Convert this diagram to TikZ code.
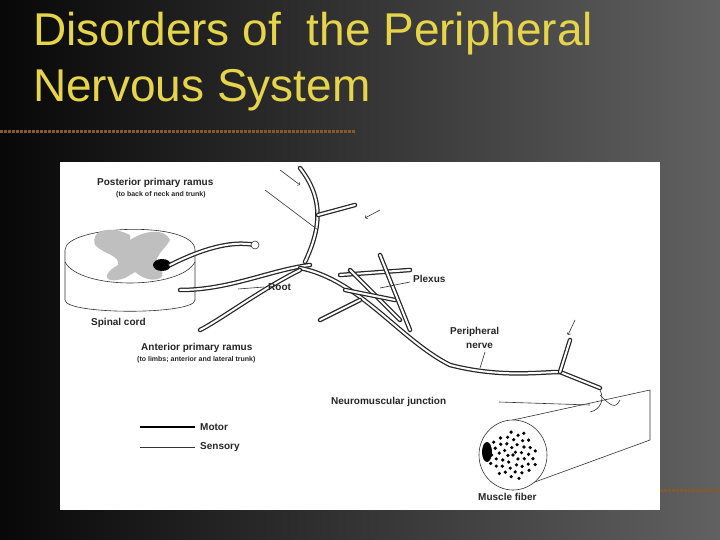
\documentclass[tikz,border=0pt]{standalone}
\usepackage{fontspec}
\setmainfont{Liberation Sans}
\begin{document}
\begin{tikzpicture}[x=1pt,y=-1pt,
  lbl/.style={font=\bfseries\fontsize{10}{11}\selectfont,anchor=west,inner sep=0,text=black!85},
  sml/.style={font=\bfseries\fontsize{7}{8}\selectfont,anchor=west,inner sep=0,text=black!85},
  nerveo/.style={line width=4.5pt,black!85,line cap=round},
  nervei/.style={line width=2pt,white,line cap=round},
  thin/.style={line width=0.6pt,black!80}]
\useasboundingbox (0,0) rectangle (720,540);
\shade[left color=black!97,right color=black!62] (0,0) rectangle (720,540);
\definecolor{ttl}{HTML}{E6D44A}
\node[anchor=base west,inner sep=0,text=ttl,font=\fontsize{46}{50}\selectfont] (t1) at (33,46) {Disorders of\ \ the Peripheral};
\node[anchor=base west,inner sep=0,text=ttl,font=\fontsize{46}{50}\selectfont] (t2) at (33,102) {Nervous System};
\draw[line width=3pt,brown!70!black,dash pattern=on 3pt off 1pt] (0,132) -- (355,132);
\draw[line width=3pt,brown!70!black,dash pattern=on 3pt off 1pt] (660,490) -- (720,490);
\fill[white] (60,162) rectangle (660,510);
% spinal cord
\draw[thin,fill=white] (65,250) .. controls (65,225) and (195,220) .. (195,250) -- (195,300) .. controls (195,315) and (65,315) .. (65,300) -- cycle;
\draw[thin] (65,262) .. controls (80,290) and (180,290) .. (195,262);
\fill[black!25] (130,235) .. controls (110,225) and (90,230) .. (95,245) .. controls (105,255) and (120,255) .. (118,265) .. controls (100,275) and (105,285) .. (125,278) -- (135,272) .. controls (150,285) and (170,280) .. (160,268) .. controls (150,258) and (165,250) .. (170,240) .. controls (165,228) and (145,230) .. (130,240) -- cycle;
\fill[black] (162,265) ellipse (9pt and 6pt);
% roots
\draw[nerveo] (170,265) .. controls (200,250) and (230,240) .. (255,245);
\draw[nervei] (170,265) .. controls (200,250) and (230,240) .. (255,245);
\draw[thin,fill=white] (255,245) circle (4pt);
\draw[nerveo] (180,290) .. controls (230,290) and (270,270) .. (310,265);
\draw[nervei] (180,290) .. controls (230,290) and (270,270) .. (310,265);
% posterior ramus
\draw[nerveo] (305,262) .. controls (320,230) and (325,200) .. (300,168);
\draw[nervei] (305,262) .. controls (320,230) and (325,200) .. (300,168);
\draw[nerveo] (318,215) -- (355,205);
\draw[nervei] (318,215) -- (355,205);
% main nerve
\draw[nerveo] (300,268) .. controls (360,280) and (400,340) .. (450,365) .. controls (500,378) and (540,372) .. (560,372) -- (600,388);
\draw[nervei] (300,268) .. controls (360,280) and (400,340) .. (450,365) .. controls (500,378) and (540,372) .. (560,372) -- (600,388);
\draw[nerveo] (300,270) .. controls (260,290) and (220,320) .. (200,330);
\draw[nervei] (300,270) .. controls (260,290) and (220,320) .. (200,330);
% plexus
\foreach \a/\b in {{(340,275)}/{(410,270)},{(350,270)}/{(400,320)},{(345,290)}/{(395,300)},{(360,300)}/{(320,320)},{(380,255)}/{(410,330)}}{
 \draw[nerveo] \a -- \b; \draw[nervei] \a -- \b;}
\draw[nerveo] (560,372) -- (570,340); \draw[nervei] (560,372) -- (570,340);
% arrows
\draw[->,thin] (280,170) -- (300,185);
\draw[->,thin] (380,210) -- (365,218);
\draw[->,thin] (575,320) -- (568,335);
% muscle fiber
\draw[thin,fill=white] (513,420) -- (650,390) -- (650,440) -- (513,490) -- cycle;
\draw[thin,fill=white] (513,455) ellipse (34pt and 35pt);
\foreach \i in {0,...,45}{ \fill ({513+24*sin(\i*137.5)*sqrt(\i/45)},{455+25*cos(\i*137.5)*sqrt(\i/45)}) circle (1.8pt);}
\fill[black] (487,452) ellipse (5pt and 10pt);
\draw[thin] (600,390) .. controls (605,400) and (600,410) .. (590,412);
\draw[thin] (600,395) .. controls (610,405) and (615,410) .. (620,400);
% labels
\node[lbl] (pr) at (97,183) {Posterior primary ramus};
\node[sml] (prs) at (116,195) {(to back of neck and trunk)};
\node[lbl] (px) at (413,279) {Plexus};
\node[lbl] (rt) at (268,287) {Root};
\node[lbl] (sc) at (91,323) {Spinal cord};
\node[lbl] (pn) at (450,332) {Peripheral};
\node[lbl] (pn2) at (466,346) {nerve};
\node[lbl] (ar) at (141,348) {Anterior primary ramus};
\node[sml] (ars) at (137,360) {(to limbs; anterior and lateral trunk)};
\node[lbl] (nj) at (331,402) {Neuromuscular junction};
\node[lbl] (mo) at (200,427) {Motor};
\node[lbl] (se) at (200,447) {Sensory};
\node[lbl] (mf) at (478,497) {Muscle fiber};
\draw[line width=1.2pt] (140,427) -- (195,427);
\draw[thin] (140,447) -- (195,447);
\draw[thin] (265,190) -- (318,230);
\draw[thin] (410,282) -- (380,288);
\draw[thin] (264,287) -- (238,289);
\draw[thin] (485,352) -- (480,368);
\draw[thin] (499,402) -- (590,405);
\end{tikzpicture}
\end{document}
